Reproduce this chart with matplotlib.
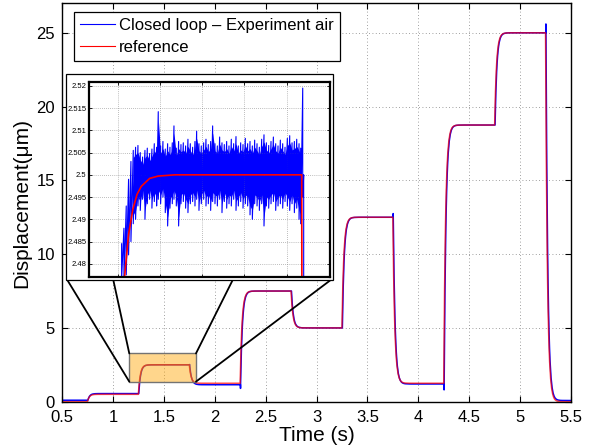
import numpy as np
import matplotlib
matplotlib.use("Agg")
import matplotlib.pyplot as plt
from matplotlib.patches import Rectangle, ConnectionPatch

plt.rcParams['font.family'] = ['Liberation Sans', 'DejaVu Sans']

# ---------------- data ----------------
step_times = [0.75, 1.25, 1.75, 2.25, 2.75, 3.25, 3.75, 4.25, 4.75, 5.25]
ref_levels = [0.0, 0.5, 2.5, 1.25, 7.5, 5.0, 12.5, 1.25, 18.75, 25.0, 0.0]
exp_levels = [0.1, 0.55, 2.5, 1.15, 7.5, 5.0, 12.5, 1.2, 18.75, 25.0, 0.08]
exp_spikes = [None, None, 2.5195, 0.9, None, None, 12.75, 0.8, None, 25.6]
exp_delay = 0.004

# normalised step response shape (offset s, fraction)
step_offsets = [0, 0.004, 0.008, 0.012, 0.016, 0.02, 0.025, 0.03, 0.035, 0.04,
                0.05, 0.06, 0.07, 0.08, 0.09, 0.10, 0.11, 0.12, 0.14, 0.16, 0.20]
step_fraction = [0, 0.199, 0.359, 0.487, 0.589, 0.671, 0.751, 0.811, 0.857, 0.892,
                 0.938, 0.964, 0.9795, 0.9883, 0.9933, 0.9961, 0.9978, 0.9987, 0.9996,
                 0.99986, 1.0]

# zoomed experiment signal (inset): sample times, upper and lower excursions
inset_t = [1.3235, 1.3290, 1.3345, 1.3400, 1.3456, 1.3511, 1.3566, 1.3622, 1.3677, 1.3732,
           1.3788, 1.3843, 1.3898, 1.3953, 1.4009, 1.4064, 1.4103, 1.4159, 1.4214, 1.4269,
           1.4325, 1.4380, 1.4435, 1.4475, 1.4530, 1.4585, 1.4641, 1.4696, 1.4751, 1.4806,
           1.4862, 1.4917, 1.4972, 1.5012, 1.5067, 1.5122, 1.5178, 1.5233, 1.5288, 1.5344,
           1.5391, 1.5446, 1.5502, 1.5557, 1.5612, 1.5667, 1.5723, 1.5778, 1.5833, 1.5889,
           1.5944, 1.5999, 1.6055, 1.6110, 1.6165, 1.6220, 1.6276, 1.6331, 1.6386, 1.6442,
           1.6497, 1.6552, 1.6607, 1.6663, 1.6718, 1.6773, 1.6829, 1.6884, 1.6939, 1.6994,
           1.7050, 1.7105, 1.7160, 1.7216, 1.7271, 1.7326, 1.7382, 1.7437, 1.7476, 1.7524,
           1.7547]
inset_hi = [2.4845, 2.4880, 2.4930, 2.4990, 2.5030, 2.5055, 2.5062, 2.5066, 2.5050, 2.5040,
            2.5055, 2.5060, 2.5048, 2.5058, 2.5070, 2.5062, 2.5142, 2.5065, 2.5075, 2.5058,
            2.5070, 2.5062, 2.5072, 2.5110, 2.5060, 2.5075, 2.5068, 2.5072, 2.5065, 2.5080,
            2.5070, 2.5062, 2.5075, 2.5098, 2.5070, 2.5065, 2.5072, 2.5080, 2.5068, 2.5075,
            2.5110, 2.5070, 2.5065, 2.5085, 2.5072, 2.5068, 2.5075, 2.5065, 2.5080, 2.5070,
            2.5086, 2.5065, 2.5072, 2.5068, 2.5082, 2.5070, 2.5075, 2.5065, 2.5078, 2.5070,
            2.5062, 2.5080, 2.5090, 2.5072, 2.5066, 2.5075, 2.5085, 2.5070, 2.5065, 2.5078,
            2.5070, 2.5062, 2.5082, 2.5088, 2.5072, 2.5075, 2.5080, 2.5070, 2.5060, 2.5195,
            2.5000]
inset_lo = [2.4765, 2.4765, 2.4775, 2.4820, 2.4850, 2.4890, 2.4900, 2.4930, 2.4920, 2.4945,
            2.4900, 2.4935, 2.4945, 2.4925, 2.4940, 2.4930, 2.4945, 2.4935, 2.4950, 2.4915,
            2.4885, 2.4925, 2.4935, 2.4945, 2.4930, 2.4885, 2.4935, 2.4940, 2.4925, 2.4915,
            2.4935, 2.4940, 2.4930, 2.4945, 2.4920, 2.4935, 2.4945, 2.4930, 2.4935, 2.4920,
            2.4940, 2.4935, 2.4930, 2.4945, 2.4915, 2.4940, 2.4925, 2.4935, 2.4930, 2.4945,
            2.4920, 2.4930, 2.4940, 2.4925, 2.4935, 2.4930, 2.4910, 2.4900, 2.4935, 2.4930,
            2.4920, 2.4935, 2.4885, 2.4930, 2.4925, 2.4935, 2.4940, 2.4920, 2.4930, 2.4935,
            2.4925, 2.4940, 2.4930, 2.4920, 2.4935, 2.4915, 2.4925, 2.4900, 2.4890, 2.4950,
            2.4700]
# dense (solid-looking) part of the noise band, as margins inside the excursions
inset_core_margin_hi = 0.0016
inset_core_margin_lo = 0.0020

# zoom window marked in main plot
zoom_t = [1.161, 1.816]
zoom_y = [1.36, 3.27]

x_ticks = [0.5, 1, 1.5, 2, 2.5, 3, 3.5, 4, 4.5, 5, 5.5]
x_ticklabels = ['0.5', '1', '1.5', '2', '2.5', '3', '3.5', '4', '4.5', '5', '5.5']
y_ticks = [0, 5, 10, 15, 20, 25]
inset_yticks = [2.48, 2.485, 2.49, 2.495, 2.5, 2.505, 2.51, 2.515, 2.52]
inset_yticklabels = ['2.48', '2.485', '2.49', '2.495', '2.5', '2.505', '2.51', '2.515', '2.52']
inset_xticks = [1.314, 1.414, 1.514, 1.614, 1.714]

series_labels = ['Closed loop \u2013 Experiment air', 'reference']


def step_curve(levels, times, delay, spikes=None):
    t = [0.5]
    y = [levels[0]]
    for k, ts in enumerate(times):
        t0 = ts + delay
        a, b = levels[k], levels[k + 1]
        if spikes is not None and spikes[k] is not None:
            t += [t0 - 0.001, t0 - 0.0005]
            y += [a, spikes[k]]
        for off, fr in zip(step_offsets, step_fraction):
            t.append(t0 + off)
            y.append(a + (b - a) * fr)
    t.append(5.5)
    y.append(levels[-1])
    return np.array(t), np.array(y)


t_ref, y_ref = step_curve(ref_levels, step_times, 0.0)
t_exp, y_exp = step_curve(exp_levels, step_times, exp_delay, exp_spikes)

# ---------------- figure ----------------
W, H = 592, 448
fig = plt.figure(figsize=(W / 100, H / 100), dpi=100)
fig.patch.set_facecolor('white')

ax = fig.add_axes([62 / W, 1 - 401.7 / H, 509 / W, 398.4 / H])
ax.plot(t_exp, y_exp, color='#0000ff', lw=1.1, label=series_labels[0], zorder=2)
ax.plot(t_ref, y_ref, color='#ff0000', lw=1.1, alpha=0.7, label=series_labels[1], zorder=2.1)
ax.set_xlim(0.5, 5.5)
ax.set_ylim(0, 27)
ax.set_xticks(x_ticks)
ax.set_xticklabels(x_ticklabels)
ax.set_yticks(y_ticks)
ax.tick_params(direction='in', top=True, right=True, length=4, width=0.8,
               labelsize=12, pad=5)
ax.tick_params(axis='x', pad=6)
ax.grid(True, color='0.5', linestyle=(0, (1, 3)), lw=0.6)
for s in ax.spines.values():
    s.set_linewidth(1.0)
ax.set_xlabel('Time (s)', fontsize=15, labelpad=1)
ax.set_ylabel('Displacement(\u03bcm)', fontsize=15, labelpad=4)

# zoom rectangle
ax.add_patch(Rectangle((zoom_t[0], zoom_y[0]), zoom_t[1] - zoom_t[0], zoom_y[1] - zoom_y[0],
                       facecolor=(1.0, 0.647, 0.0, 0.45), edgecolor='0.45', lw=1.0, zorder=3))

leg = ax.legend(loc='upper left', bbox_to_anchor=(74 / W, 1 - 12.3 / H),
                bbox_transform=fig.transFigure, borderaxespad=0, fontsize=12,
                handlelength=2.1, handletextpad=0.25, labelspacing=0.4, borderpad=0.35,
                fancybox=False, framealpha=1, edgecolor='black')
leg.get_frame().set_linewidth(0.9)
for ln in leg.get_lines():
    ln.set_linewidth(0.8)
    ln.set_alpha(1)

# inset outer panel
panel = Rectangle((66 / W, 1 - 280 / H), (333 - 66) / W, (280 - 74) / H,
                  transform=fig.transFigure, facecolor='white', edgecolor='black',
                  lw=0.9, zorder=4)
fig.add_artist(panel)

# connector lines from zoom box corners to inset panel
corner_pts = [(zoom_t[0], zoom_y[0]), (zoom_t[0], zoom_y[1]),
              (zoom_t[1], zoom_y[1]), (zoom_t[1], zoom_y[0])]
panel_pts_px = [67.3, 113.3, 232.7, 330.7]
for (cx, cy), px in zip(corner_pts, panel_pts_px):
    con = ConnectionPatch(xyA=(cx, cy), coordsA=ax.transData,
                          xyB=(px / W, 1 - 280 / H), coordsB=fig.transFigure,
                          color='black', lw=1.3, zorder=3)
    fig.add_artist(con)

# inset axes
axi = fig.add_axes([89.3 / W, 1 - 276.7 / H, 240.7 / W, 194.4 / H], zorder=5)
it = np.array(inset_t)
ihi = np.array(inset_hi)
ilo = np.array(inset_lo)
core = slice(5, -2)
axi.fill_between(it[core], ilo[core] + inset_core_margin_lo, ihi[core] - inset_core_margin_hi,
                 color='#0000ff', lw=0)
zx = np.repeat(it, 2)
zy = np.column_stack([ihi, ilo]).ravel()
axi.plot(zx, zy, color='#0000ff', lw=0.8)
axi.plot(t_ref, y_ref, color='#ff0000', lw=1.2)
axi.set_xlim(1.247, 1.817)
axi.set_ylim(2.4771, 2.5208)
axi.set_xticks(inset_xticks)
axi.set_xticklabels([])
axi.set_yticks(inset_yticks)
axi.set_yticklabels(inset_yticklabels)
axi.tick_params(direction='in', top=True, right=True, length=2.5, width=0.6,
                labelsize=5.5, pad=2)
axi.grid(True, color='0.5', linestyle=(0, (1, 2)), lw=0.5)
for s in axi.spines.values():
    s.set_linewidth(1.6)

fig.savefig('out.png', dpi=100)
